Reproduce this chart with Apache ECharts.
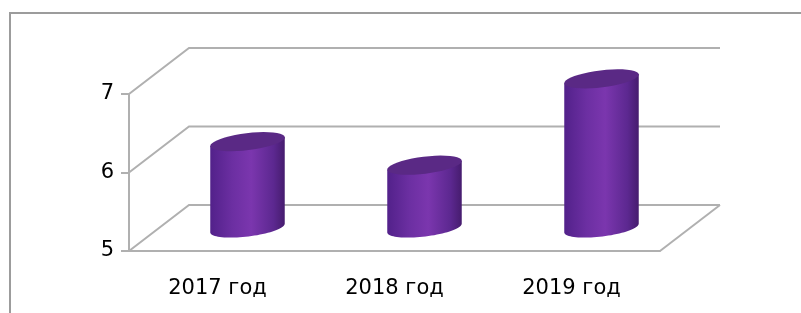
<!DOCTYPE html>
<html>
<head>
<meta charset="utf-8">
<style>
  html, body { margin: 0; padding: 0; background: #fff; }
  #chart { width: 801px; height: 313px; }
</style>
<script src="https://cdn.jsdelivr.net/npm/echarts@6/dist/echarts.min.js"></script>
</head>
<body>
<div id="chart"></div>
<script>
// данные
var years = ['2017 год', '2018 год', '2019 год'];
var values = [6.1, 5.8, 6.9];
var yTicks = [5, 6, 7];

var DX = 60, DY = -46;      // смещение задней стенки
var lineColor = '#b0b0b0';

function ellipsePts(cx, cy, rx, ry, th, from, to) {
    var pts = [];
    var n = 40;
    for (var i = 0; i <= n; i++) {
        var t = from + (to - from) * i / n;
        var x = cx + rx * Math.cos(t) * Math.cos(th) - ry * Math.sin(t) * Math.sin(th);
        var y = cy - (rx * Math.cos(t) * Math.sin(th) + ry * Math.sin(t) * Math.cos(th));
        pts.push([x, y]);
    }
    return pts;
}

var myChart = echarts.init(document.getElementById('chart'));
var option = {
    animation: false,
    grid: { left: 129, right: 141, top: 94, bottom: 62 },
    graphic: [{
        type: 'rect', silent: true,
        shape: { x: 10, y: 13, width: 820, height: 330 },
        style: { fill: 'none', stroke: '#9c9c9c', lineWidth: 2 }
    }],
    xAxis: {
        type: 'category',
        data: years,
        boundaryGap: true,
        axisLine: { lineStyle: { color: lineColor, width: 2 } },
        axisTick: { length: 7, lineStyle: { color: lineColor, width: 2 } },
        axisLabel: { margin: 27, color: '#000', fontSize: 21, fontFamily: 'DejaVu Sans' },
        splitLine: { show: false }
    },
    yAxis: {
        type: 'value',
        min: 5, max: 7, interval: 1,
        axisLine: { show: true, lineStyle: { color: lineColor, width: 2 } },
        axisTick: { show: true, length: 8, lineStyle: { color: lineColor, width: 2 } },
        axisLabel: { margin: 15, color: '#000', fontSize: 21, fontFamily: 'DejaVu Sans' },
        splitLine: { show: false }
    },
    series: [{
        // задняя и боковая стенки
        type: 'custom',
        silent: true,
        data: yTicks.map(function (v) { return [0, v]; }),
        z: 1,
        clip: false,
        renderItem: function (params, api) {
            var v = api.value(1);
            var bw = api.size([1, 0])[0];
            var p0 = api.coord([0, v]);
            var p2 = api.coord([years.length - 1, v]);
            var xl = p0[0] - bw / 2, xr = p2[0] + bw / 2, y = p0[1];
            var children = [{
                type: 'polyline',
                shape: { points: [[xl, y], [xl + DX, y + DY], [xr + DX, y + DY]] },
                style: { fill: 'none', stroke: lineColor, lineWidth: 2 }
            }];
            if (v === yTicks[0]) {
                children.push({
                    type: 'line',
                    shape: { x1: xr, y1: y, x2: xr + DX, y2: y + DY },
                    style: { stroke: lineColor, lineWidth: 2 }
                });
            }
            return { type: 'group', children: children };
        }
    }, {
        // цилиндры
        type: 'custom',
        data: values.map(function (v, i) { return [i, v]; }),
        z: 3,
        clip: false,
        renderItem: function (params, api) {
            var i = api.value(0), v = api.value(1);
            var bw = api.size([1, 0])[0];
            var top = api.coord([i, v]);
            var base = api.coord([i, yTicks[0]]);
            var cx = top[0] + DX / 2;
            var yt = top[1] + DY / 2, yb = base[1] + DY / 2;
            var rx = bw * 0.212, ry = 8.5, th = 7 * Math.PI / 180;
            var grad = new echarts.graphic.LinearGradient(0, 0, 1, 0, [
                { offset: 0, color: '#52218a' },
                { offset: 0.3, color: '#6c2fa2' },
                { offset: 0.55, color: '#7b36ae' },
                { offset: 0.85, color: '#5c2890' },
                { offset: 1, color: '#461c6e' }
            ]);
            // правая точка → через низ → левая
            var bottomHalf = ellipsePts(cx, yb, rx, ry, th, 0, -Math.PI);
            var tl = ellipsePts(cx, yt, rx, ry, th, Math.PI, Math.PI)[0];
            var tr = ellipsePts(cx, yt, rx, ry, th, 0, 0)[0];
            var body = bottomHalf.concat([tl, tr]);
            return {
                type: 'group',
                children: [{
                    type: 'polygon',
                    shape: { points: body },
                    style: { fill: grad }
                }, {
                    type: 'polygon',
                    shape: { points: ellipsePts(cx, yt, rx, ry, th, 0, 2 * Math.PI) },
                    style: { fill: '#5a2985' }
                }]
            };
        }
    }]
};
myChart.setOption(option);
</script>
</body>
</html>
